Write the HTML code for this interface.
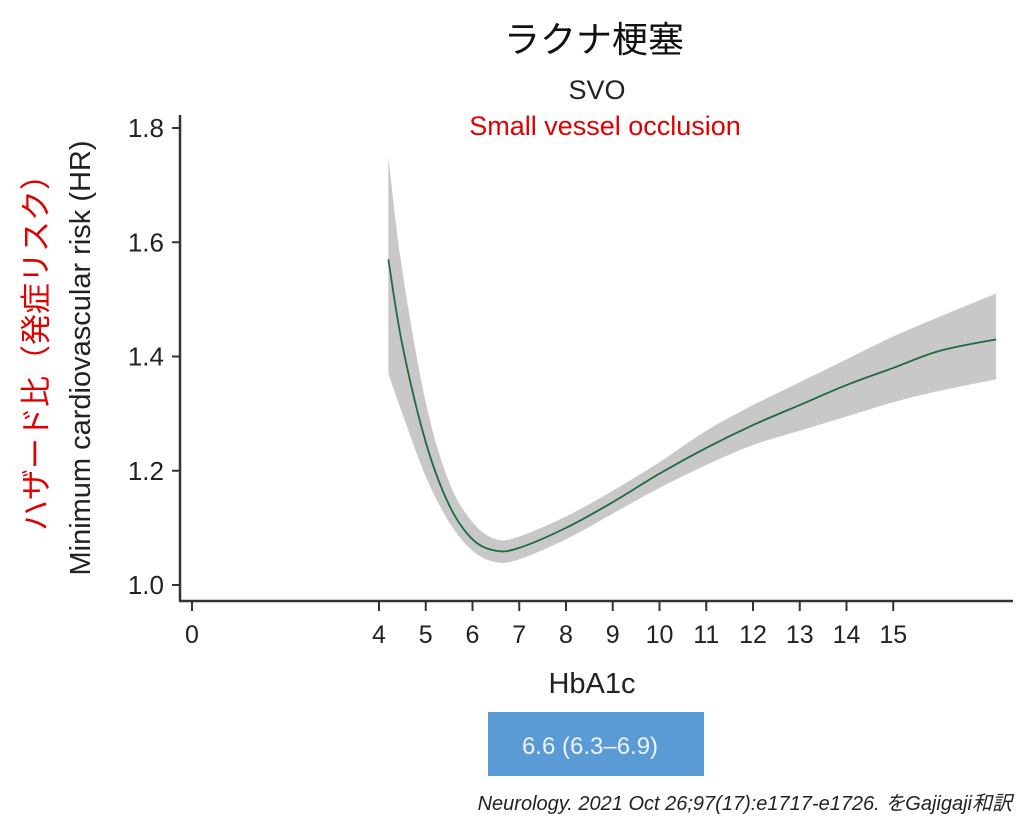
<!DOCTYPE html>
<html><head><meta charset="utf-8"><style>
body{margin:0;background:#fff;width:1024px;height:830px;overflow:hidden}
svg text{font-family:"Liberation Sans","Noto Sans CJK JP",sans-serif}
</style></head><body>
<svg id="chart" width="1024" height="830" viewBox="0 0 1024 830">
<text x="594" y="52" font-size="36" text-anchor="middle" fill="#111">ラクナ梗塞</text>
<text x="597" y="99" font-size="27" text-anchor="middle" fill="#222">SVO</text>
<text x="605" y="135" font-size="27" text-anchor="middle" fill="#e00000">Small vessel occlusion</text>
<text transform="translate(90,358) rotate(-90)" font-size="29" text-anchor="middle" fill="#222">Minimum cardiovascular risk (HR)</text>
<text transform="translate(47,345) rotate(-90)" font-size="31" text-anchor="middle" fill="#e00000">ハザード比（発症リスク）</text>
<g id="band"></g>
<g id="line"></g>
<g id="axes"></g>
<text x="592" y="693" font-size="29" text-anchor="middle" fill="#222">HbA1c</text>
<rect x="488" y="712" width="216" height="64" fill="#5b9bd5"/>
<text x="590" y="754" font-size="24" text-anchor="middle" fill="#eef4fb">6.6 (6.3–6.9)</text>
<text x="1012" y="810" font-size="20" font-style="italic" text-anchor="end" fill="#222">Neurology. 2021 Oct 26;97(17):e1717-e1726. をGajigaji和訳</text>
</svg>
<script>
const hba1c=[4.2,4.5,5,5.5,6,6.5,7,8,9,10,11,12,13,14,15,16,17.2];
const hr=[1.57,1.42,1.25,1.14,1.08,1.06,1.065,1.10,1.145,1.195,1.24,1.28,1.315,1.35,1.38,1.41,1.43];
const hrLow=[1.37,1.30,1.19,1.11,1.06,1.04,1.045,1.08,1.125,1.17,1.21,1.245,1.27,1.295,1.32,1.34,1.36];
const hrHigh=[1.75,1.55,1.32,1.18,1.11,1.08,1.085,1.12,1.165,1.215,1.27,1.315,1.355,1.395,1.435,1.47,1.51];
const xTicks=[0,4,5,6,7,8,9,10,11,12,13,14,15];
const yTicks=[1.0,1.2,1.4,1.6,1.8];
const NS="http://www.w3.org/2000/svg";
const sx=v=>192+v*46.75;
const sy=v=>585-(v-1.0)*571.25;
function spline(xs,ys){
  const p=xs.map((x,i)=>[sx(x),sy(ys[i])]);
  let d="M"+p[0][0]+","+p[0][1];
  for(let i=0;i<p.length-1;i++){
    const p0=p[Math.max(0,i-1)],p1=p[i],p2=p[i+1],p3=p[Math.min(p.length-1,i+2)];
    const c1=[p1[0]+(p2[0]-p0[0])/6,p1[1]+(p2[1]-p0[1])/6];
    const c2=[p2[0]-(p3[0]-p1[0])/6,p2[1]-(p3[1]-p1[1])/6];
    d+=" C"+c1+" "+c2+" "+p2;
  }
  return d;
}
function mk(tag,attrs,parent){const e=document.createElementNS(NS,tag);for(const k in attrs)e.setAttribute(k,attrs[k]);parent.appendChild(e);return e;}
const band=document.getElementById('band');
const up=spline(hba1c,hrHigh);
const rx=hba1c.slice().reverse(),rl=hrLow.slice().reverse();
const lo=spline(rx,rl).replace(/^M/,"L");
const bp=mk('path',{d:up+" "+lo+" Z",fill:"#c8c8c8"},band);


const lp=mk('path',{d:spline(hba1c,hr),fill:"none",stroke:"#1f6b3d","stroke-width":1.8},document.getElementById('line'));


const ax=document.getElementById('axes');
const ya=mk('line',{x1:180,y1:115,x2:180,y2:601,stroke:"#333","stroke-width":2.5},ax);


const xa=mk('line',{x1:179,y1:601,x2:1013,y2:601,stroke:"#333","stroke-width":2.5},ax);


yTicks.forEach(v=>{
  const t=mk('line',{x1:172,y1:sy(v),x2:180,y2:sy(v),stroke:"#333","stroke-width":2},ax);
  
  
  const l=mk('text',{x:164,y:sy(v)+9,"font-size":26,"text-anchor":"end",fill:"#222"},ax);
  l.textContent=v.toFixed(1);
  
  
});
xTicks.forEach(v=>{
  const t=mk('line',{x1:sx(v),y1:601,x2:sx(v),y2:611,stroke:"#333","stroke-width":2},ax);
  
  
  const l=mk('text',{x:sx(v),y:643,"font-size":25,"text-anchor":"middle",fill:"#222"},ax);
  l.textContent=v;
  
  
});
</script>
</body></html>
